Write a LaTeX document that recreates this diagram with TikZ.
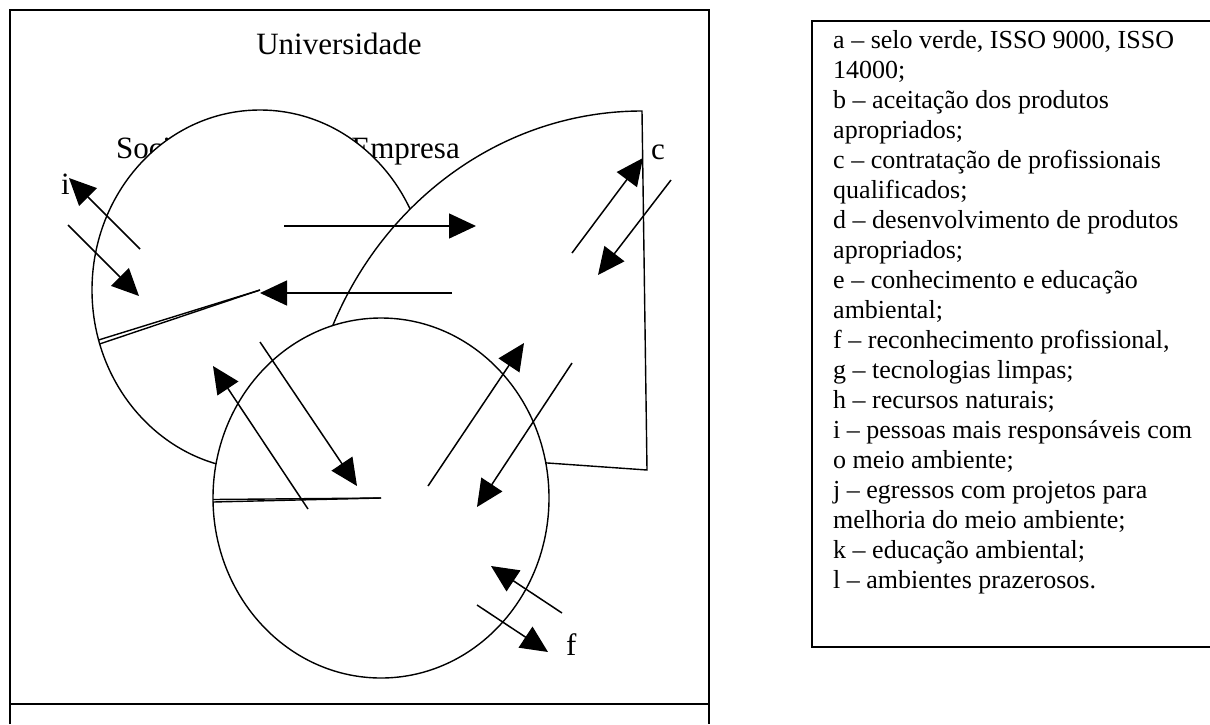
\documentclass[tikz,border=0pt]{standalone}
\usepackage{fontspec}
\setmainfont{Liberation Serif}
\usetikzlibrary{arrows.meta}
\begin{document}
\begin{tikzpicture}[x=1pt,y=-1pt,
  shp/.style={line width=1.4pt, fill=white},
  rad/.style={line width=1.4pt},
  arr/.style={line width=1.5pt, -{Triangle[length=27pt,width=25pt]}},
  lbl/.style={font=\fontsize{31}{36}\selectfont, inner sep=0pt, anchor=base west},
  leg/.style={font=\fontsize{26}{30}\selectfont, inner sep=0pt, anchor=base west}]
\useasboundingbox (0,0) rectangle (1210,724);
% outer frame
\draw[line width=2.5pt] (10,724) -- (10,10) -- (709,10) -- (709,724);
\draw[line width=2.5pt] (10,704) -- (709,704);
% legend frame
\draw[line width=1.3pt] (1212,21) -- (812,21) -- (812,647) -- (1212,647);
% hidden labels (under shapes)
\node[lbl] (soc) at (116,158) {Sociedade};
\node[lbl, anchor=base east] (emp) at (460,158) {Empresa};
% Sociedade
\coordinate (sc) at (260,290);
\coordinate (s1) at (98.5,340);
\coordinate (s2) at (99.5,344);
\draw[shp] (sc) ellipse [x radius=168pt, y radius=180pt];
\draw[rad] (sc) -- (s1);
\draw[rad] (sc) -- (s2);
% Empresa
\coordinate (ec) at (647,470);
\coordinate (et) at (642,111);
\draw[shp] (ec) -- (et) arc[start angle=90, end angle=176, x radius=338pt, y radius=360pt] -- cycle;
% Universidade circle
\coordinate (uc) at (381,498);
\coordinate (u1) at (213,499.5);
\coordinate (u2) at (213,502);
\draw[shp] (uc) ellipse [x radius=168pt, y radius=180pt];
\draw[rad] (uc) -- (u1);
\draw[rad] (uc) -- (u2);
% arrows
\coordinate (a1t) at (140,249); \coordinate (a1h) at (69,178);
\coordinate (a2t) at (68,225);  \coordinate (a2h) at (139,296);
\coordinate (a3t) at (284,226); \coordinate (a3h) at (476,226);
\coordinate (a4t) at (452,293); \coordinate (a4h) at (260,293);
\coordinate (a5t) at (572,253); \coordinate (a5h) at (643,158);
\coordinate (a6t) at (671,180); \coordinate (a6h) at (598,275);
\coordinate (a7t) at (308,509); \coordinate (a7h) at (213,366);
\coordinate (a8t) at (260,342); \coordinate (a8h) at (357,486);
\coordinate (a9t) at (428,486); \coordinate (a9h) at (524,343);
\coordinate (a10t) at (572,363); \coordinate (a10h) at (477,507);
\coordinate (a11t) at (562,613); \coordinate (a11h) at (491,566);
\coordinate (a12t) at (477,605); \coordinate (a12h) at (548,652);
\foreach \k in {1,...,12} \draw[arr] (a\k t) -- (a\k h);
% labels
\node[lbl, anchor=base] (uni) at (339,54) {Universidade};
\node[lbl] (li) at (61,194) {i};
\node[lbl] (lc) at (651,159) {c};
\node[lbl] (lf) at (566,655) {f};
% legend
\node[leg] (g1) at (833,48) {a – selo verde, ISSO 9000, ISSO};
\node[leg] (g2) at (833,78) {14000;};
\node[leg] (g3) at (833,108) {b – aceitação dos produtos};
\node[leg] (g4) at (833,138) {apropriados;};
\node[leg] (g5) at (833,168) {c – contratação de profissionais};
\node[leg] (g6) at (833,198) {qualificados;};
\node[leg] (g7) at (833,228) {d – desenvolvimento de produtos};
\node[leg] (g8) at (833,258) {apropriados;};
\node[leg] (g9) at (833,288) {e – conhecimento e educação};
\node[leg] (g10) at (833,318) {ambiental;};
\node[leg] (g11) at (833,348) {f – reconhecimento profissional,};
\node[leg] (g12) at (833,378) {g – tecnologias limpas;};
\node[leg] (g13) at (833,408) {h – recursos naturais;};
\node[leg] (g14) at (833,438) {i – pessoas mais responsáveis com};
\node[leg] (g15) at (833,468) {o meio ambiente;};
\node[leg] (g16) at (833,498) {j – egressos com projetos para};
\node[leg] (g17) at (833,528) {melhoria do meio ambiente;};
\node[leg] (g18) at (833,558) {k – educação ambiental;};
\node[leg] (g19) at (833,588) {l – ambientes prazerosos.};
\end{tikzpicture}
\end{document}
